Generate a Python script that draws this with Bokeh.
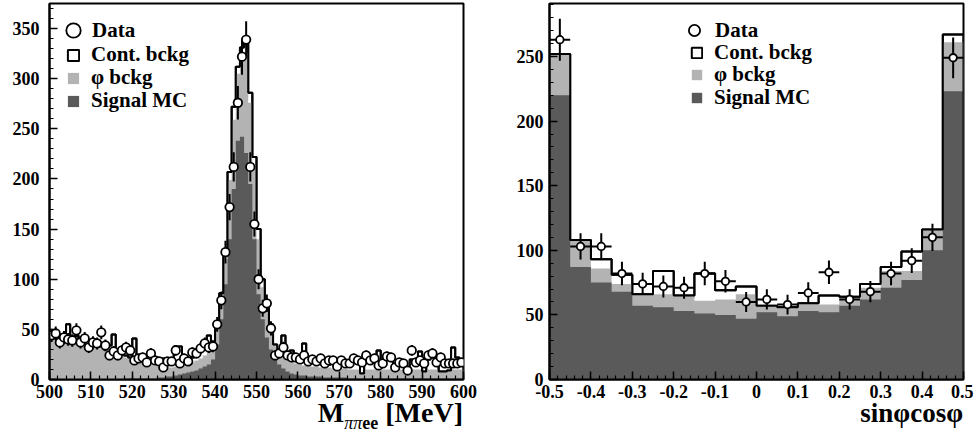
import numpy as np
from bokeh.plotting import figure
from bokeh.layouts import row, column
from bokeh.models import Range1d, Legend, LegendItem, FixedTicker, CustomJSTickFormatter, Div
from bokeh.embed import file_html
from bokeh.resources import INLINE

# ---------------- data: left panel, M(pi pi e e), 1 MeV bins 500..600 ----------------
mass_lo, mass_hi, mass_step = 500, 600, 1
mass_data = [44, 46, 37, 42, 40, 39, 49, 37, 41, 32,
             37, 36, 47, 34, 24, 28, 24, 29, 32, 29,
             19, 21, 22, 17, 26, 19, 18, 12, 18, 18,
             29, 16, 21, 18, 27, 26, 31, 36, 32, 33,
             55, 79, 127, 172, 212, 276, 322, 339, 212, 155,
             100, 71, 76, 51, 24, 26, 32, 24, 22, 22,
             20, 24, 18, 20, 18, 21, 16, 19, 19, 13,
             19, 16, 16, 21, 19, 17, 24, 19, 21, 14,
             16, 23, 22, 12, 17, 16, 9, 29, 17, 19,
             16, 24, 26, 17, 22, 16, 16, 16, 16, 17]
mass_signal = [0, 0, 0, 0, 0, 0, 0, 0, 0, 0,
               0, 0, 0, 0, 0, 0, 0, 0, 1, 1,
               1, 1, 1, 1, 1, 1, 2, 2, 3, 3,
               4, 5, 6, 7, 8, 9, 11, 13, 15, 20,
               35, 60, 95, 140, 190, 238, 242, 226, 195, 140,
               85, 60, 42, 30, 21, 15, 11, 8, 6, 5,
               4, 4, 3, 3, 3, 3, 2, 2, 2, 2,
               2, 2, 1, 1, 1, 1, 1, 1, 1, 1,
               1, 1, 1, 1, 1, 1, 1, 1, 1, 1,
               1, 1, 1, 1, 1, 1, 1, 1, 1, 1]
mass_phi = [42, 41, 40, 40, 39, 38, 37, 36, 36, 35,
            34, 33, 31, 30, 28, 27, 25, 24, 21, 20,
            19, 17, 16, 15, 14, 13, 11, 11, 9, 9,
            9, 8, 8, 8, 9, 10, 10, 11, 13, 13,
            15, 18, 25, 59, 69, 67, 80, 100, 81, 74,
            55, 32, 28, 18, 13, 11, 11, 11, 11, 11,
            11, 10, 11, 10, 10, 9, 10, 10, 9, 9,
            9, 9, 9, 9, 9, 5, 9, 9, 9, 9,
            9, 9, 9, 9, 9, 9, 9, 9, 9, 9,
            7, 9, 9, 9, 7, 7, 8, 9, 9, 9]
mass_cont = [2, 1, 0, 5, 16, 4, 7, 4, 2, 4,
             1, 4, 2, 0, 6, 18, 2, 2, 2, 1,
             21, 2, 5, 2, 2, 5, 3, 8, 5, 6,
             20, 20, 4, 1, 5, 5, 9, 11, 16, 5,
             8, 8, 9, 8, 13, 7, 9, 9, 10, 8,
             10, 8, 8, 7, 1, 4, 22, 6, 12, 6,
             6, 22, 6, 5, 9, 5, 7, 3, 7, 3,
             6, 7, 4, 10, 6, 0, 8, 12, 7, 19,
             5, 10, 13, 3, 6, 7, 1, 10, 5, 18,
             0, 10, 14, 7, 0, 0, 0, 22, 12, 6]
mass_xticks = list(range(500, 601, 10))
mass_yticks = [0, 50, 100, 150, 200, 250, 300, 350]

# ---------------- data: right panel, sin(phi)cos(phi), 20 bins ----------------
angle_lo, angle_hi, angle_nbins = -0.5, 0.5, 20
angle_data = [263, 103, 103, 82, 74, 72, 71, 82, 76, 60,
              62, 58, 67, 83, 62, 68, 82, 92, 110, 249]
angle_signal = [220, 87, 75, 68, 57, 56, 53, 51, 50, 47,
                52, 49, 53, 52, 57, 62, 71, 77, 100, 223]
angle_phi = [32, 21, 11, 6, 9, 10, 12, 10, 12, 19,
             5, 6, 6, 6, 6, 9, 13, 7, 16, 38]
angle_cont = [0, 0, 7, 7, 0, 18, 0, 21, 7, 6,
              0, 1, 0, 7, 1, 3, 3, 15, 0, 6]
angle_xticks = [-0.5, -0.4, -0.3, -0.2, -0.1, 0.0, 0.1, 0.2, 0.3, 0.4, 0.5]
angle_yticks = [0, 50, 100, 150, 200, 250]

legend_labels = ["Data", "Cont. bckg", "\u03c6 bckg", "Signal MC"]

LIGHT = "#b3b3b3"
DARK = "#5a5a5a"
FONT = "Liberation Serif"


def style(p, xticks, xminor, yticks, yminor):
    p.outline_line_color = "black"
    p.outline_line_width = 2
    p.xgrid.visible = False
    p.ygrid.visible = False
    p.background_fill_color = "white"
    p.border_fill_color = "white"
    p.xaxis.ticker = FixedTicker(ticks=xticks, minor_ticks=xminor)
    p.yaxis.ticker = FixedTicker(ticks=yticks, minor_ticks=yminor)
    for ax in (p.xaxis[0], p.yaxis[0]):
        ax.axis_line_width = 2
        ax.major_tick_in = 8
        ax.major_tick_out = 0
        ax.minor_tick_in = 4
        ax.minor_tick_out = 0
        ax.major_tick_line_width = 1.5
        ax.minor_tick_line_width = 1.2
        ax.major_label_text_font = FONT
        ax.major_label_text_font_style = "bold"
        ax.major_label_text_font_size = "18px"
        ax.major_label_text_color = "black"
    p.xaxis.major_label_standoff = 5


def step_xy(edges, vals):
    xs = np.repeat(edges, 2)
    ys = np.concatenate([[0.0], np.repeat(vals, 2), [0.0]])
    return xs, ys


def draw_hist(p, edges, signal, phi, cont, data, circle_size, leg):
    edges = np.asarray(edges, dtype=float)
    s = np.asarray(signal, dtype=float)
    f = np.asarray(phi, dtype=float)
    c = np.asarray(cont, dtype=float)
    light = s + f
    total = light + c
    left, right = edges[:-1], edges[1:]
    xs, ys = step_xy(edges, total)
    cont_r = p.patch(xs, ys, fill_color="white", line_color="black", line_width=2)
    xs, ys = step_xy(edges, light)
    phi_r = p.patch(xs, ys, fill_color=LIGHT, line_color=None)
    xs, ys = step_xy(edges, s)
    sig_r = p.patch(xs, ys, fill_color=DARK, line_color=None)
    xs, ys = step_xy(edges, total)
    p.line(xs, ys, line_color="black", line_width=2)
    d = np.asarray(data, dtype=float)
    centers = 0.5 * (left + right)
    err = np.sqrt(d)
    p.segment(x0=centers, y0=d - err, x1=centers, y1=d + err, line_color="black", line_width=2)
    p.segment(x0=left, y0=d, x1=right, y1=d, line_color="black", line_width=2)
    data_r = p.scatter(centers, d, marker="circle", size=circle_size, fill_color="white",
                       line_color="black", line_width=1.8)

    common = dict(background_fill_alpha=0, border_line_alpha=0, padding=0, margin=0,
                  label_text_font=FONT, label_text_font_style="bold",
                  label_text_font_size="21px", label_text_color="black")
    # legend rows: each entry is its own single-row legend so rows sit at fixed heights
    p.add_layout(Legend(items=[LegendItem(label=legend_labels[0], renderers=[data_r])],
                        location=leg["a_loc"], glyph_width=leg["a_glyph"],
                        glyph_height=leg["a_glyph"], label_standoff=leg["a_standoff"], **common))
    for lab, r, y in zip(legend_labels[1:], [cont_r, phi_r, sig_r], leg["b_ys"]):
        p.add_layout(Legend(items=[LegendItem(label=lab, renderers=[r])],
                            location=(leg["b_x"], y), glyph_width=leg["b_glyph"],
                            glyph_height=leg["b_glyph"], label_height=leg["b_glyph"],
                            label_standoff=leg["b_standoff"], **common))


def title_div(html, width, right_pad):
    style_txt = ("width:%dpx;padding-right:%dpx;box-sizing:border-box;text-align:right;"
                 "white-space:nowrap;font-family:'Liberation Serif',serif;font-weight:bold;"
                 "color:#000;line-height:22px;position:relative;top:-1px;" % (width, right_pad))
    return Div(text='<div style="%s">%s</div>' % (style_txt, html), width=width, height=34,
               margin=(0, 0, 0, 0))


# ---------------- left figure ----------------
p1 = figure(width=488, height=403, output_backend="svg", toolbar_location=None,
            x_range=Range1d(mass_lo, mass_hi), y_range=Range1d(0, 375),
            min_border_left=49, min_border_right=25, min_border_top=3, min_border_bottom=24)
style(p1, mass_xticks, list(range(500, 601, 2)), mass_yticks, list(range(0, 376, 10)))
p1.yaxis.major_label_standoff = 10
mass_edges = np.arange(mass_lo, mass_hi + mass_step, mass_step)
draw_hist(p1, mass_edges, mass_signal, mass_phi, mass_cont, mass_data, 8.5,
          dict(a_loc=(6, 331), a_glyph=36, a_standoff=1,
               b_x=17, b_ys=[312, 289, 266], b_glyph=14, b_standoff=11))
t1 = title_div('<span style="font-size:28px">M</span>'
               '<span style="font-size:18px;position:relative;top:7px">'
               '<i style="font-weight:normal">\u03c0\u03c0</i>ee</span>'
               '<span style="font-size:28px"> [MeV]</span>', 488, 25)

# ---------------- right figure ----------------
p2 = figure(width=485, height=403, output_backend="svg", toolbar_location=None,
            x_range=Range1d(angle_lo, angle_hi), y_range=Range1d(0, 291),
            min_border_left=61, min_border_right=10, min_border_top=3, min_border_bottom=24)
style(p2, angle_xticks, [round(-0.5 + 0.02 * i, 2) for i in range(51)],
      angle_yticks, list(range(0, 291, 10)))
p2.yaxis.major_label_standoff = 6
p2.xaxis.formatter = CustomJSTickFormatter(
    code="return Math.abs(tick) < 1e-9 ? '0' : tick.toFixed(1);")
angle_edges = np.linspace(angle_lo, angle_hi, angle_nbins + 1)
draw_hist(p2, angle_edges, angle_signal, angle_phi, angle_cont, angle_data, 7.5,
          dict(a_loc=(131, 335), a_glyph=28, a_standoff=7,
               b_x=141, b_ys=[314, 292, 269], b_glyph=13, b_standoff=11))
t2 = title_div('<span style="font-size:27px">sin\u03c6cos\u03c6</span>', 485, 10)

layout = row(column(p1, t1), column(p2, t2))
open("out.html", "w").write(file_html(layout, INLINE))
